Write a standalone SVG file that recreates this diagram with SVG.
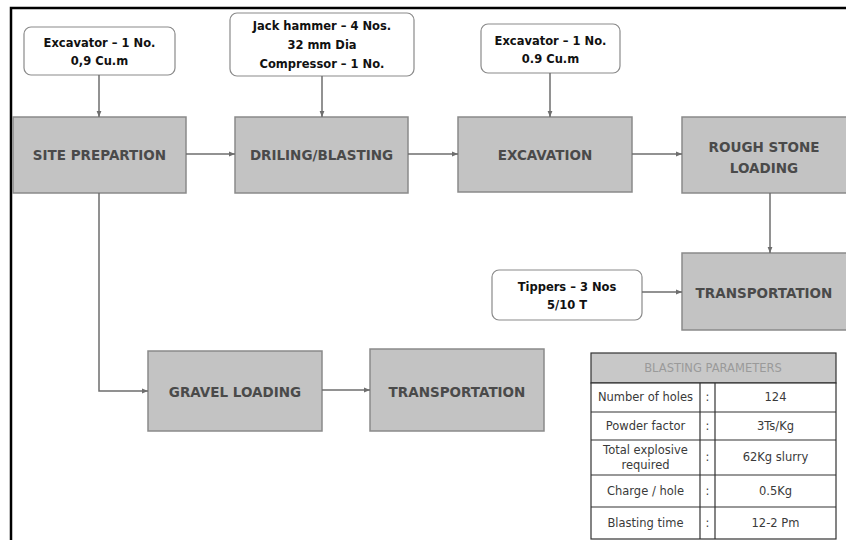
<svg xmlns="http://www.w3.org/2000/svg" width="846" height="540" viewBox="0 0 846 540">
<defs>
<marker id="ah" viewBox="0 0 10 10" refX="10" refY="5" markerWidth="6" markerHeight="6" orient="auto" markerUnits="userSpaceOnUse"><path d="M0,1 L10,5 L0,9 z" fill="#6e6e6e"/></marker>
<style>
.frame{stroke:#000;stroke-width:2.5;fill:none}
.step rect{fill:#c3c3c3;stroke:#8a8a8a;stroke-width:1.5}
.step text{font-family:"DejaVu Sans",sans-serif;font-weight:bold;font-size:13.5px;fill:#4a4a4a;text-anchor:middle;dominant-baseline:central}
.res rect{fill:#fff;stroke:#8a8a8a;stroke-width:1.2}
.res text{font-family:"DejaVu Sans",sans-serif;font-weight:bold;font-size:11.5px;fill:#111;text-anchor:middle;dominant-baseline:central}
.conn path{stroke:#6e6e6e;stroke-width:1.5;fill:none;marker-end:url(#ah)}
.tbl rect,.tbl line{stroke:#333;stroke-width:1.2}
.tbl text{font-family:"DejaVu Sans",sans-serif;font-size:11.5px;fill:#3a3a3a;text-anchor:middle;dominant-baseline:central}
.tbl .hd{fill:#9a9a9a}
</style>
</defs>
<rect width="846" height="540" fill="#fff"/>
<path class="frame" d="M11,540 V8 H846"/>

<g id="res-excavator1" class="res"><rect x="24" y="27" width="151" height="48" rx="7"/><text x="99.5" y="43">Excavator – 1 No.</text><text x="99.5" y="61">0,9 Cu.m</text></g>
<g id="res-jackhammer" class="res"><rect x="230" y="13" width="184" height="63" rx="7"/><text x="322" y="26">Jack hammer – 4 Nos.</text><text x="322" y="45">32 mm Dia</text><text x="322" y="64">Compressor – 1 No.</text></g>
<g id="res-excavator2" class="res"><rect x="481" y="24" width="139" height="49" rx="7"/><text x="550.5" y="41">Excavator – 1 No.</text><text x="550.5" y="59">0.9 Cu.m</text></g>
<g id="res-tippers" class="res"><rect x="492" y="270" width="150" height="50" rx="7"/><text x="567" y="287">Tippers – 3 Nos</text><text x="567" y="305">5/10 T</text></g>

<g id="site-prep" class="step"><rect x="13" y="117" width="173" height="76"/><text x="99.5" y="155">SITE PREPARTION</text></g>
<g id="drilling" class="step"><rect x="235" y="117" width="173" height="76"/><text x="321.5" y="155">DRILING/BLASTING</text></g>
<g id="excavation" class="step"><rect x="458" y="117" width="174" height="75"/><text x="545" y="155">EXCAVATION</text></g>
<g id="rough-stone" class="step"><rect x="682" y="117" width="166" height="76"/><text x="764" y="147">ROUGH STONE</text><text x="764" y="168">LOADING</text></g>
<g id="transport1" class="step"><rect x="682" y="253" width="166" height="77"/><text x="764" y="293">TRANSPORTATION</text></g>
<g id="gravel" class="step"><rect x="148" y="351" width="174" height="80"/><text x="235" y="392">GRAVEL LOADING</text></g>
<g id="transport2" class="step"><rect x="370" y="349" width="174" height="82"/><text x="457" y="392">TRANSPORTATION</text></g>

<g id="connectors" class="conn">
<path d="M99,75 V117"/>
<path d="M322,76 V117"/>
<path d="M550,73 V117"/>
<path d="M186,154 H235"/>
<path d="M408,154 H458"/>
<path d="M632,154 H682"/>
<path d="M770,193 V253"/>
<path d="M642,292 H682"/>
<path d="M99,193 V391 H148"/>
<path d="M322,390 H370"/>
</g>

<g id="blasting-table" class="tbl">
<rect x="591" y="353" width="245" height="30" fill="#c8c8c8"/>
<rect x="591" y="383" width="245" height="156" fill="#fff"/>
<line x1="591" y1="412" x2="836" y2="412"/>
<line x1="591" y1="440" x2="836" y2="440"/>
<line x1="591" y1="475" x2="836" y2="475"/>
<line x1="591" y1="507" x2="836" y2="507"/>
<line x1="700" y1="383" x2="700" y2="539"/>
<line x1="715" y1="383" x2="715" y2="539"/>
<text class="hd" x="713" y="368">BLASTING PARAMETERS</text>
<text x="645.5" y="397">Number of holes</text><text x="707.5" y="397">:</text><text x="775.5" y="397">124</text>
<text x="645.5" y="426">Powder factor</text><text x="707.5" y="426">:</text><text x="775.5" y="426">3Ts/Kg</text>
<text x="645.5" y="450">Total explosive</text><text x="645.5" y="465">required</text><text x="707.5" y="457">:</text><text x="775.5" y="457">62Kg slurry</text>
<text x="645.5" y="491">Charge / hole</text><text x="707.5" y="491">:</text><text x="775.5" y="491">0.5Kg</text>
<text x="645.5" y="523">Blasting time</text><text x="707.5" y="523">:</text><text x="775.5" y="523">12-2 Pm</text>
</g>
</svg>
